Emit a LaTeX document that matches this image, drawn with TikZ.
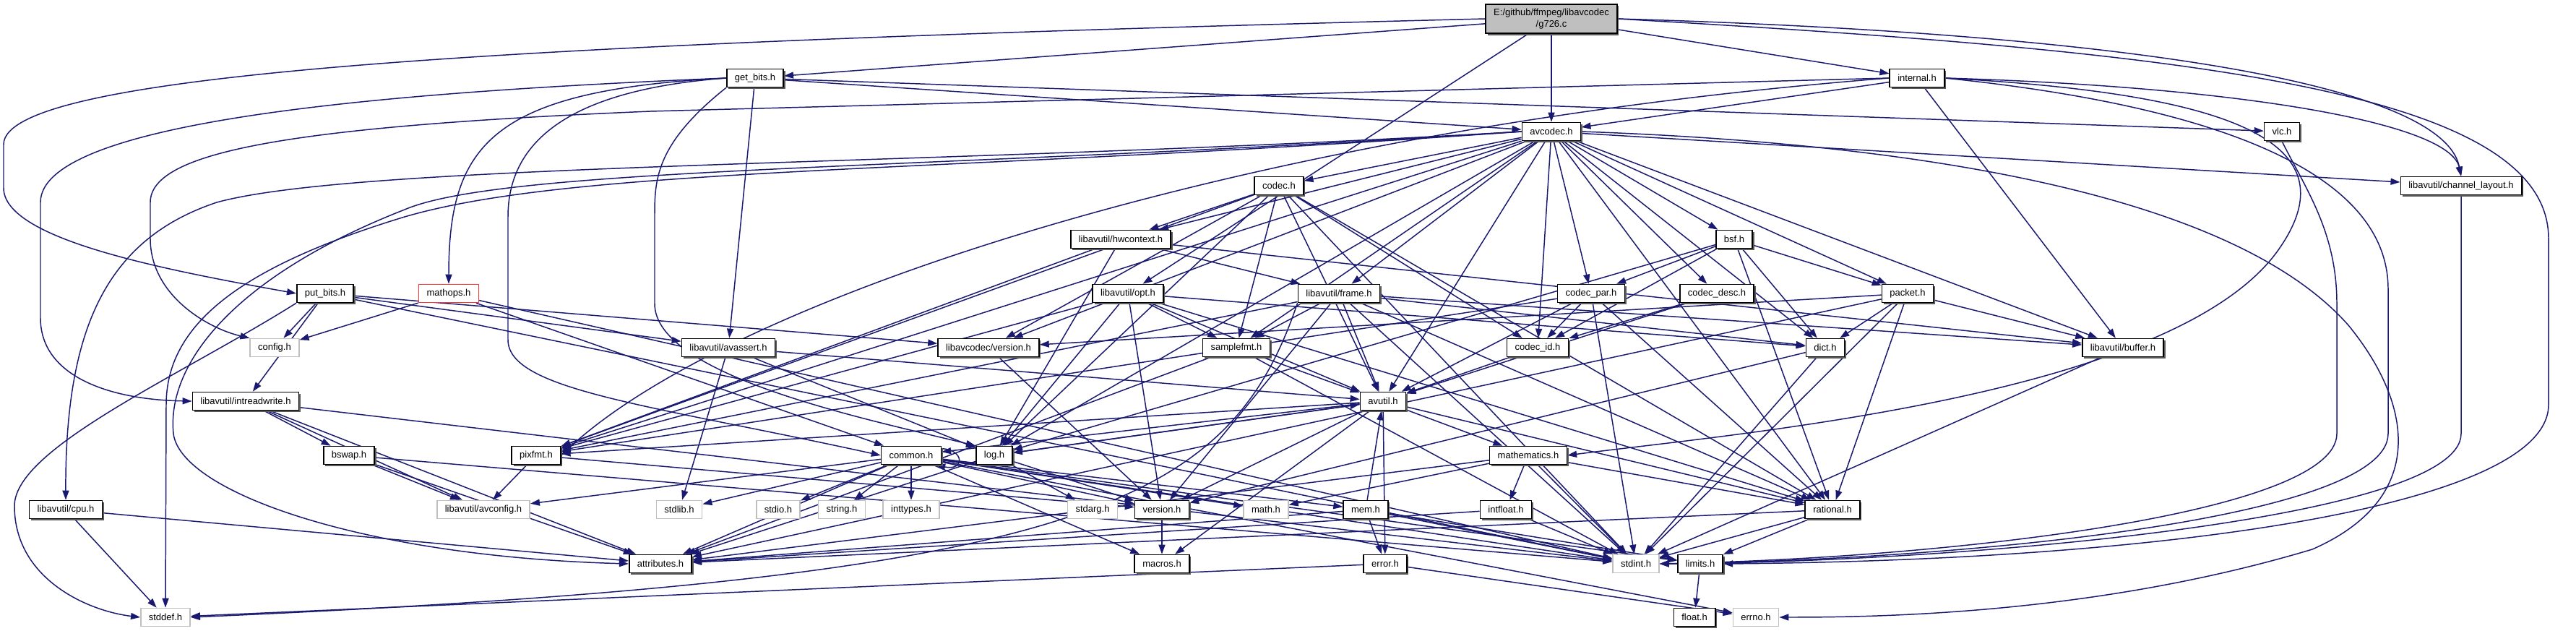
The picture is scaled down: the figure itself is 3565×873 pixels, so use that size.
\documentclass[tikz,border=0pt]{standalone}
\usepackage{fontspec}
\setmainfont{Liberation Sans}
\usetikzlibrary{arrows.meta,shadows,calc}
\definecolor{edgecol}{HTML}{191970}
\definecolor{boxgray}{HTML}{BFBFBF}
\definecolor{redborder}{HTML}{FF3333}
\pgfdeclarelayer{paper}
\pgfdeclarelayer{bg}
\pgfsetlayers{paper,bg,main}
\begin{document}
\begin{tikzpicture}[x=0.01cm,y=-0.01cm,
 nd/.style={font=\fontsize{3.7}{4.6}\selectfont, inner xsep=0.11cm, inner ysep=0pt, minimum height=0.25cm, fill=white},
 blk/.style={nd, draw=black, line width=0.45pt, drop shadow={shadow xshift=0.025cm, shadow yshift=-0.025cm, opacity=1, fill=black!65}},
 gry/.style={nd, draw=boxgray, line width=0.45pt},
 redbox/.style={nd, draw=redborder, line width=0.45pt},
 edge/.style={draw=edgecol, line width=0.42pt, -{Triangle[length=0.13cm,width=0.09cm]}}]
\begin{pgfonlayer}{paper}
\fill[white] (0,0) rectangle (3565,873);
\end{pgfonlayer}
\useasboundingbox (0,0) rectangle (3565,873);

% nodes
\node[blk, fill=boxgray, align=center, minimum height=0.4cm, minimum width=1.79cm] (g726) at (2147,26) {E:/github/ffmpeg/libavcodec\\/g726.c};
\node[blk] (getbits) at (1045,108) {get\_bits.h};
\node[blk] (internal) at (2653,108) {internal.h};
\node[blk] (avcodec) at (2147,182) {avcodec.h};
\node[blk] (vlc) at (3158,182) {vlc.h};
\node[blk] (chlayout) at (3406,257) {libavutil/channel\_layout.h};
\node[blk] (codec) at (1770,257) {codec.h};
\node[blk] (bsf) at (2400,331) {bsf.h};
\node[blk] (hwctx) at (1551,331) {libavutil/hwcontext.h};
\node[blk] (putbits) at (450,406) {put\_bits.h};
\node[redbox] (mathops) at (621,406) {mathops.h};
\node[blk] (opt) at (1561,406) {libavutil/opt.h};
\node[blk] (frame) at (1853,406) {libavutil/frame.h};
\node[blk] (codecpar) at (2202,406) {codec\_par.h};
\node[blk] (codecdesc) at (2376,406) {codec\_desc.h};
\node[blk] (packet) at (2640,406) {packet.h};
\node[gry] (config) at (380,481) {config.h};
\node[blk] (avassert) at (1008,481) {libavutil/avassert.h};
\node[blk] (lcversion) at (1368,481) {libavcodec/version.h};
\node[blk] (samplefmt) at (1711,481) {samplefmt.h};
\node[blk] (codecid) at (2128,481) {codec\_id.h};
\node[blk] (dict) at (2526,481) {dict.h};
\node[blk] (buffer) at (2938,481) {libavutil/buffer.h};
\node[blk] (intrw) at (340,555) {libavutil/intreadwrite.h};
\node[blk] (avutil) at (1914,555) {avutil.h};
\node[blk] (bswap) at (483,630) {bswap.h};
\node[blk] (pixfmt) at (742,630) {pixfmt.h};
\node[blk] (common) at (1261,630) {common.h};
\node[blk] (log) at (1376,630) {log.h};
\node[blk] (mathem) at (2115,630) {mathematics.h};
\node[blk] (cpu) at (91,705) {libavutil/cpu.h};
\node[gry] (avconfig) at (669,705) {libavutil/avconfig.h};
\node[gry] (stdlib) at (940,705) {stdlib.h};
\node[gry] (stdio) at (1077,705) {stdio.h};
\node[gry] (string) at (1165,705) {string.h};
\node[gry] (inttypes) at (1261,705) {inttypes.h};
\node[gry] (stdarg) at (1512,705) {stdarg.h};
\node[blk] (version) at (1608,705) {version.h};
\node[gry] (math) at (1752,705) {math.h};
\node[blk] (mem) at (1890,705) {mem.h};
\node[blk] (intfloat) at (2084,705) {intfloat.h};
\node[blk] (rational) at (2536,705) {rational.h};
\node[blk] (attributes) at (914,780) {attributes.h};
\node[blk] (macros) at (1608,780) {macros.h};
\node[blk] (error) at (1917,780) {error.h};
\node[gry] (stdint) at (2264,780) {stdint.h};
\node[blk] (limits) at (2353,780) {limits.h};
\node[gry] (stddef) at (229,854) {stddef.h};
\node[blk] (float) at (2345,854) {float.h};
\node[gry] (errno) at (2430,854) {errno.h};

\begin{pgfonlayer}{bg}
\foreach \s/\t in {
 g726/getbits, g726/avcodec, g726/internal, g726/opt,
 getbits/avcodec, getbits/vlc, getbits/avassert,
 internal/avcodec, internal/buffer,
 avcodec/samplefmt, avcodec/avutil, avcodec/buffer, avcodec/dict, avcodec/frame,
 avcodec/hwctx, avcodec/log, avcodec/pixfmt, avcodec/rational, avcodec/bsf, avcodec/codec,
 avcodec/codecdesc, avcodec/codecpar, avcodec/codecid, avcodec/packet, avcodec/lcversion, avcodec/chlayout,
 codec/stdint, codec/avutil, codec/hwctx, codec/log, codec/pixfmt, codec/rational, codec/samplefmt, codec/codecid, codec/lcversion,
 bsf/dict, bsf/log, bsf/rational, bsf/codecid, bsf/codecpar, bsf/packet,
 codecpar/stdint, codecpar/avutil, codecpar/rational, codecpar/pixfmt, codecpar/codecid,
 codecdesc/avutil, codecdesc/codecid, codecid/avutil,
 packet/stdint, packet/attributes, packet/buffer, packet/dict, packet/rational, packet/lcversion,
 lcversion/version,
 putbits/stdint, putbits/config, putbits/intrw, putbits/avassert, putbits/lcversion,
 mathops/config, mathops/common, mathops/stdint,
 avassert/stdlib, avassert/avutil, avassert/log,
 opt/rational, opt/avutil, opt/dict, opt/log, opt/pixfmt, opt/samplefmt, opt/version,
 frame/stdint, frame/avutil, frame/buffer, frame/dict, frame/rational, frame/samplefmt, frame/pixfmt, frame/version,
 hwctx/buffer, hwctx/frame, hwctx/log, hwctx/pixfmt,
 samplefmt/stdint, samplefmt/avutil, samplefmt/attributes,
 dict/stdint, dict/version, buffer/stdint,
 intrw/stdint, intrw/avconfig, intrw/attributes, intrw/bswap,
 bswap/stdint, bswap/avconfig, bswap/attributes,
 avutil/common, avutil/error, avutil/rational, avutil/version, avutil/macros, avutil/mathem, avutil/log, avutil/pixfmt,
 common/errno, common/inttypes, common/limits, common/math, common/stdint, common/stdio, common/stdlib, common/string,
 common/attributes, common/macros, common/version, common/avconfig, common/mem,
 log/stdarg, log/avutil, log/attributes, log/version,
 mathem/stdint, mathem/math, mathem/attributes, mathem/rational, mathem/intfloat,
 pixfmt/avconfig, pixfmt/version,
 rational/stdint, rational/limits, rational/attributes,
 version/macros,
 mem/limits, mem/stdint, mem/attributes, mem/error, mem/avutil,
 intfloat/stdint, intfloat/attributes,
 error/errno, error/stddef,
 cpu/stddef, cpu/attributes,
 limits/float}
 \draw[edge] (\s) -- (\t);

% routed edges
\draw[edge] (g726.west) .. controls (700,60) and (5,100) .. (5,200) -- (5,260) .. controls (5,330) and (220,372) .. (putbits.west);
\draw[edge] (getbits.west) .. controls (600,125) and (56,160) .. (56,280) -- (56,440) .. controls (56,520) and (150,553) .. (intrw.west);
\draw[edge] (getbits.west) .. controls (680,125) and (621,200) .. (mathops.north);
\draw[edge] (getbits.west) .. controls (780,125) and (703,200) .. (703,300) -- (703,470) .. controls (703,540) and (900,560) .. (common.west);
\draw[edge] (getbits.south west) .. controls (906,200) and (906,250) .. (906,300) -- (906,420) .. controls (906,520) and (1200,580) .. (log.north west);
\draw[edge] (internal.west) -- (900,154) .. controls (400,175) and (208,210) .. (208,280) -- (208,330) .. controls (208,410) and (290,455) .. (config.north west);
\draw[edge] (internal.west) .. controls (1700,180) and (1000,420) .. (pixfmt.east);
\draw[edge] (avcodec.west) .. controls (1300,230) and (500,225) .. (300,280) .. controls (150,330) and (90,450) .. (cpu.north);
\draw[edge] (avcodec.west) .. controls (1300,240) and (800,230) .. (560,300) .. controls (330,370) and (230,450) .. (230,560) -- (stddef.north);
\draw[edge] (avcodec.west) .. controls (1300,235) and (700,230) .. (560,290) .. controls (330,380) and (230,500) .. (240,600) .. controls (250,680) and (500,770) .. (attributes.west);
\draw[edge] (putbits.south west) .. controls (250,520) and (20,620) .. (20,700) .. controls (20,800) and (120,845) .. (stddef.west);
\draw[edge] (frame.south west) .. controls (1700,700) and (1500,800) .. (stddef.east);
\draw[edge] (g726.east) .. controls (3000,70) and (3527,120) .. (3527,330) -- (3527,560) .. controls (3527,700) and (3000,775) .. (limits.east);
\draw[edge] (g726.east) .. controls (2900,45) and (3380,110) .. (chlayout.north);
\draw[edge] (internal.east) .. controls (3100,120) and (3390,170) .. (chlayout.north);
\draw[edge] (avcodec.east) .. controls (2700,200) and (3100,280) .. (3250,450) .. controls (3340,560) and (3360,690) .. (3200,760) .. controls (2900,850) and (2600,854) .. (errno.east);
\draw[edge] (internal.east) .. controls (3100,150) and (3305,250) .. (3305,400) -- (3305,600) .. controls (3305,720) and (2700,775) .. (stdint.east);
\draw[edge] (vlc.south) .. controls (3190,260) and (3234,320) .. (3234,420) -- (3234,600) .. controls (3234,710) and (2700,772) .. (stdint.east);
\draw[edge] (chlayout.south) -- (3406,600) .. controls (3406,720) and (2700,778) .. (stdint.east);
\draw[edge] (internal.east) .. controls (3100,130) and (3260,200) .. (3150,350) .. controls (3000,550) and (2400,600) .. (mathem.east);
\draw[edge] ($(common.north east)+(0,4)$) .. controls (1335,622) and (1335,652) .. ($(common.south east)+(-8,0)$);
\end{pgfonlayer}
\end{tikzpicture}
\end{document}
